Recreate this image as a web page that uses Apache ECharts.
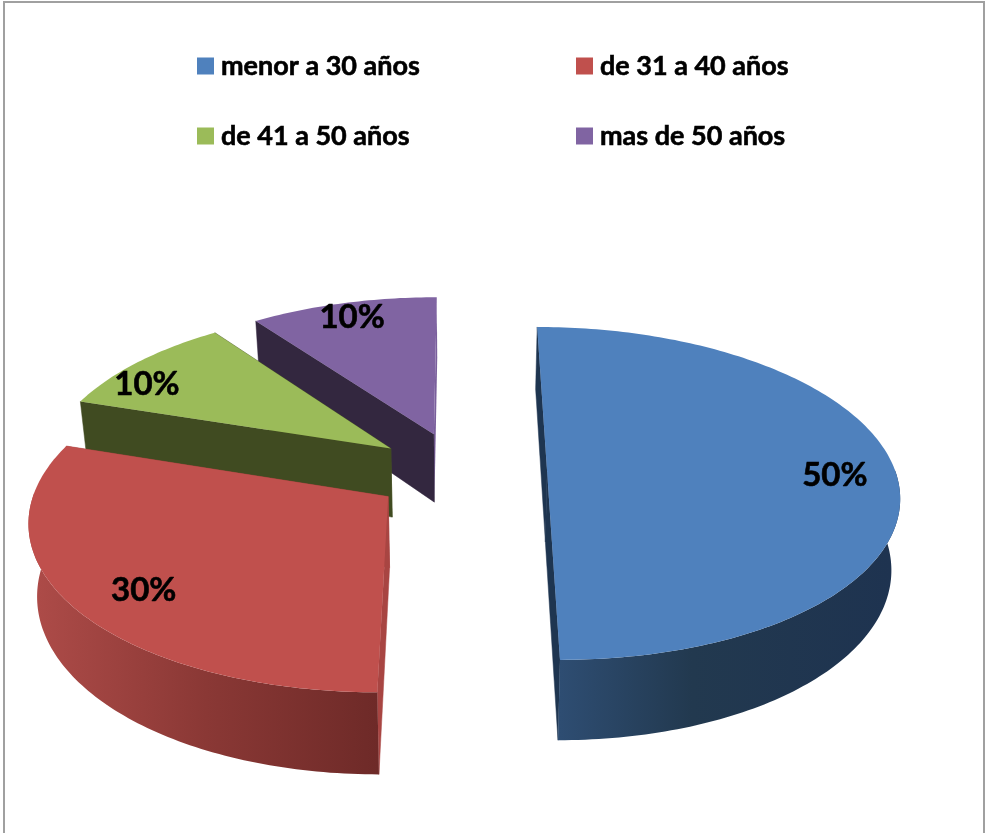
<!DOCTYPE html>
<html>
<head>
<meta charset="utf-8">
<style>html,body{margin:0;padding:0;background:#fff}#chart{width:985px;height:833px}</style>
<script src="https://cdn.jsdelivr.net/npm/echarts@6/dist/echarts.min.js"></script>
</head>
<body>
<div id="chart"></div>
<script>
// Age groups and their share of the total, in percent
const categories = ['menor a 30 años', 'de 31 a 40 años', 'de 41 a 50 años', 'mas de 50 años'];
const shares = [50, 30, 10, 10];

// Face colours per slice
const topColors = ['#4f81bd', '#c0504d', '#9bbb59', '#8064a2'];
const wallColors = ['#1e3550', '#a84542', '#404b21', '#33273f'];
const innerWallColors = ['#1e3550', '#a84542', '#4e5a2a', '#7a5f9c'];
const rimStops = [
  [[0, '#2e4d72'], [0.4, '#22394f'], [1, '#1e3350']],
  [[0, '#6e2a28'], [0.5, '#8a3835'], [1, '#ad4b48']],
  [[0, '#404b21'], [1, '#404b21']],
  [[0, '#33273f'], [1, '#33273f']]
];
const rimRange = [[560, 890], [378, 35], [80, 390], [255, 440]];

// Small pixel shifts that seat each percentage inside its slice
const labelShift = [[2, 3], [12, 6], [-34, 8], [-6, -7]];

// Perspective camera for the tilted pie (X to the right, Y into the page, radius = 1)
const view = { vx: 460, vy: -800, a: 348.5, b: 1272, k: 0.1287, explode: 0.25, depth: 70, shrink: 0.98, labelR: 0.82 };

function project(X, Y, lower) {
  const z = 1 / (1 + view.k * Y);
  const s = lower ? view.shrink : 1;
  return [view.vx + view.a * X * z * s, view.vy + view.b * z + (lower ? view.depth * z : 0)];
}

const total = shares.reduce((a, b) => a + b, 0);

function sliceAngles(index) {
  let before = 0;
  for (let i = 0; i < index; i++) before += shares[i];
  const start = before / total * Math.PI * 2;
  const end = (before + shares[index]) / total * Math.PI * 2;
  return [start, end];
}

function polygon(points, fill, z2, edge) {
  return { type: 'polygon', z2: z2, shape: { points: points }, style: { fill: fill, stroke: edge ? fill : null, lineWidth: edge ? 0.5 : 0 } };
}

function sliceRenderer(index) {
  return function (params, api) {
    const share = api.value(0);
    const [start, end] = sliceAngles(index);
    const mid = (start + end) / 2;
    const ox = Math.sin(mid) * view.explode;
    const oy = Math.cos(mid) * view.explode;
    const rimAt = (t) => [ox + Math.sin(t), oy + Math.cos(t)];

    const steps = Math.ceil((end - start) / (Math.PI / 180));
    const topArc = [];
    const frontTop = [];
    const frontLow = [];
    const lowEnds = [];
    for (let i = 0; i <= steps; i++) {
      const t = start + (end - start) * i / steps;
      const p = rimAt(t);
      const upper = project(p[0], p[1], false);
      const lower = project(p[0], p[1], true);
      topArc.push(upper);
      lowEnds.push(lower);
      // Only the part of the rim turned towards the viewer is drawn
      if (Math.cos(t) < 0.03) {
        frontTop.push(upper);
        frontLow.push(lower);
      }
    }
    const apexTop = project(ox, oy, false);
    const apexLow = project(ox, oy, true);

    const range = rimRange[index];
    const rimFill = new echarts.graphic.LinearGradient(range[0], 0, range[1], 0,
      rimStops[index].map((s) => ({ offset: s[0], color: s[1] })), true);

    const firstWall = [apexTop, topArc[0], lowEnds[0], apexLow];
    const lastWall = [apexTop, topArc[steps], lowEnds[steps], apexLow];

    // The wall at the start of each slice's sweep faces the viewer on the two back slices
    const walls = [
      polygon(lastWall, innerWallColors[index], 1, index !== 3),
      polygon(firstWall, index >= 2 ? wallColors[index] : innerWallColors[index], 2, true)
    ];

    const children = walls.slice();
    if (frontTop.length > 1) {
      children.push(polygon(frontTop.concat(frontLow.slice().reverse()), rimFill, 3, false));
    }
    const labelPoint = project(ox + Math.sin(mid) * view.labelR, oy + Math.cos(mid) * view.labelR, false);
    children.push(polygon([apexTop].concat(topArc), topColors[index], 4, false));
    children.push({
      type: 'text', z2: 10,
      style: {
        text: share + '%',
        x: labelPoint[0] + labelShift[index][0],
        y: labelPoint[1] + labelShift[index][1],
        align: 'center', verticalAlign: 'middle',
        fill: '#000', font: 'bold 33px Lato',
        stroke: '#000', lineWidth: 0.6
      }
    });
    return { type: 'group', children: children };
  };
}

const chart = echarts.init(document.getElementById('chart'), null, { renderer: 'canvas' });
chart.setOption({
  animation: false,
  backgroundColor: '#ffffff',
  graphic: [{
    type: 'rect', silent: true,
    shape: { x: 4, y: 2, width: 980, height: 860 },
    style: { fill: 'none', stroke: '#a0a0a0', lineWidth: 2 }
  }],
  legend: {
    data: categories,
    icon: 'rect',
    left: 192, top: 46,
    width: 780,
    orient: 'horizontal',
    itemWidth: 17, itemHeight: 17,
    itemGap: 40,
    selectedMode: false,
    textStyle: {
      color: '#000', fontFamily: 'Lato', fontWeight: 'bold', fontSize: 27, lineHeight: 30, width: 315, height: 30,
      padding: [0, 0, 0, 2],
      textBorderColor: '#000', textBorderWidth: 0.6
    }
  },
  // Back slices are painted first so nearer ones overlap them
  series: categories.map((name, i) => ({
    type: 'custom',
    name: name,
    coordinateSystem: 'none',
    z: 5 - i,
    silent: true,
    itemStyle: { color: topColors[i] },
    renderItem: sliceRenderer(i),
    data: [[shares[i]]]
  }))
});
</script>
</body>
</html>
